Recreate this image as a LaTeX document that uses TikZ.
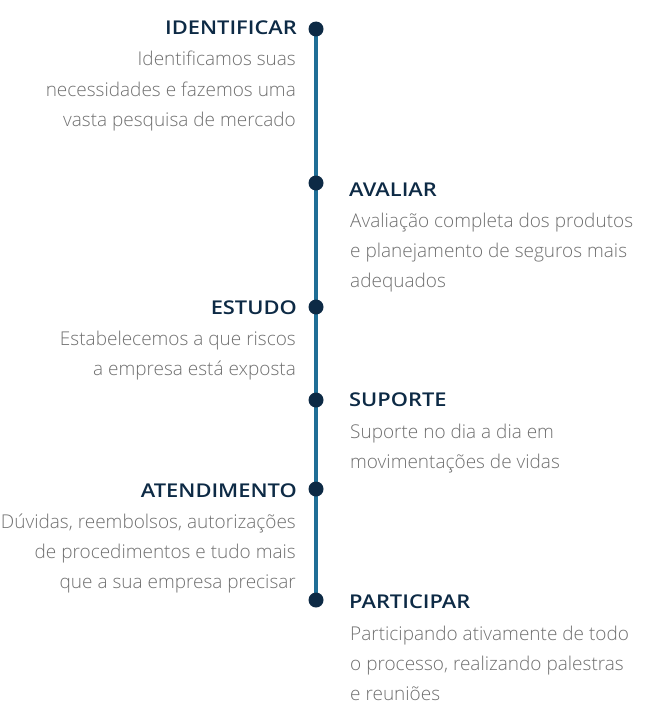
\documentclass[tikz,border=0pt]{standalone}
\usepackage{fontspec}
\setmainfont{Open Sans}
\newfontfamily\lightfont{Open Sans}[UprightFont=* Light]
\newfontfamily\semifont{Open Sans}[UprightFont=* Semibold, FakeStretch=1.15]
\definecolor{navy}{HTML}{0D2A45}
\definecolor{linec}{HTML}{1F6E96}
\definecolor{bodyc}{HTML}{707070}
\tikzset{
  ttl/.style={font=\semifont\fontsize{19}{21}\selectfont, text=navy, inner sep=0pt},
  bdy/.style={font=\lightfont\fontsize{19}{21}\selectfont, text=bodyc, inner sep=0pt},
  dot/.style={circle, fill=navy, minimum size=15pt, inner sep=0pt},
}
\begin{document}
\begin{tikzpicture}[x=1pt,y=-1pt]
\useasboundingbox (0,0) rectangle (668,725);
\coordinate (c1) at (316,29);
\coordinate (c6) at (316,600);
\draw[linec, line width=3.5pt] (c1) -- (c6);
\node[dot] (d1) at (316,29) {};
\node[dot] (d2) at (316,183) {};
\node[dot] (d3) at (316,307) {};
\node[dot] (d4) at (316,400) {};
\node[dot] (d5) at (316,489) {};
\node[dot] (d6) at (316,600) {};
% texts
\node[ttl, anchor=base east] (t1) at (297,35) {IDENTIFICAR};
\node[bdy, anchor=base east] (b11) at (296,66) {Identificamos suas};
\node[bdy, anchor=base east] (b12) at (296,96) {necessidades e fazemos uma};
\node[bdy, anchor=base east] (b13) at (296,126) {vasta pesquisa de mercado};
\node[ttl, anchor=base west] (t2) at (349,196) {AVALIAR};
\node[bdy, anchor=base west] (b21) at (350,227) {Avaliação completa dos produtos};
\node[bdy, anchor=base west] (b22) at (350,257) {e planejamento de seguros mais};
\node[bdy, anchor=base west] (b23) at (350,287) {adequados};
\node[ttl, anchor=base east] (t3) at (297,314) {ESTUDO};
\node[bdy, anchor=base east] (b31) at (296,345) {Estabelecemos a que riscos};
\node[bdy, anchor=base east] (b32) at (296,375) {a empresa está exposta};
\node[ttl, anchor=base west] (t4) at (349,406) {SUPORTE};
\node[bdy, anchor=base west] (b41) at (350,438) {Suporte no dia a dia em};
\node[bdy, anchor=base west] (b42) at (350,468) {movimentações de vidas};
\node[ttl, anchor=base east] (t5) at (297,497) {ATENDIMENTO};
\node[bdy, anchor=base east] (b51) at (296,528) {Dúvidas, reembolsos, autorizações};
\node[bdy, anchor=base east] (b52) at (296,558) {de procedimentos e tudo mais};
\node[bdy, anchor=base east] (b53) at (296,588) {que a sua empresa precisar};
\node[ttl, anchor=base west] (t6) at (349,608) {PARTICIPAR};
\node[bdy, anchor=base west] (b61) at (350,640) {Participando ativamente de todo};
\node[bdy, anchor=base west] (b62) at (350,670) {o processo, realizando palestras};
\node[bdy, anchor=base west] (b63) at (350,700) {e reuniões};
\end{tikzpicture}
\end{document}
